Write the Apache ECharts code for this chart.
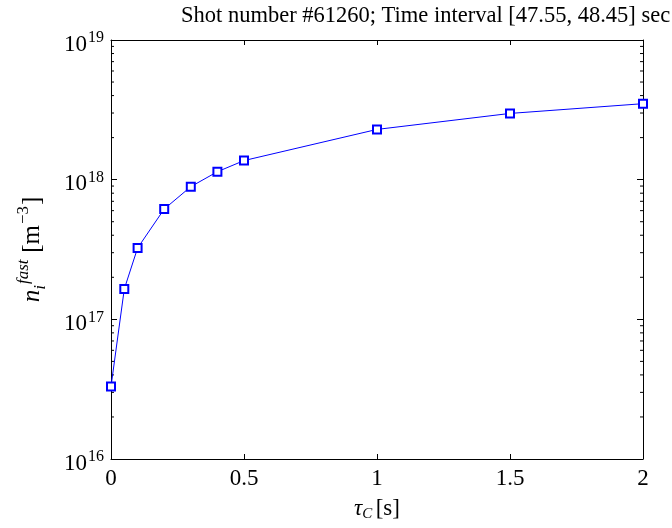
<!DOCTYPE html>
<html>
<head>
<meta charset="utf-8">
<script src="https://cdn.jsdelivr.net/npm/echarts@6/dist/echarts.min.js"></script>
<style>
  html, body { margin: 0; padding: 0; background: #fff; }
  #main { width: 672px; height: 528px; }
</style>
</head>
<body>
<div id="main"></div>
<script>
// tau_C [s] and fast ion density [m^-3]
var tauC = [0, 0.05, 0.1, 0.2, 0.3, 0.4, 0.5, 1, 1.5, 2];
var nFast = [3.30e16, 1.65e17, 3.24e17, 6.16e17, 8.91e17, 1.14e18, 1.37e18, 2.29e18, 2.98e18, 3.50e18];
var xTicks = [0, 0.5, 1, 1.5, 2];
var yDecades = [16, 17, 18, 19];
var minorMult = [2, 3, 4, 5, 6, 7, 8, 9];

var serif = "'Liberation Serif', 'DejaVu Serif', serif";
var chart = echarts.init(document.getElementById("main"));

var yLabel = {
  formatter: function (v) {
    return "{b|10}{s|" + Math.round(Math.log10(v)) + "}";
  },
  margin: 7,
  padding: [6, 0, 0, 0],
  rich: {
    b: { fontSize: 23, fontFamily: serif, color: "#000", verticalAlign: "bottom" },
    s: { fontSize: 16, fontFamily: serif, color: "#000", verticalAlign: "top", padding: [0, 0, 10, 1] }
  }
};

var option = {
  animation: false,
  title: {
    text: "Shot number #61260; Time interval [47.55, 48.45] sec",
    left: 176,
    top: 0,
    textStyle: { fontFamily: serif, fontSize: 22.5, fontWeight: "normal", color: "#000" }
  },
  grid: { left: 111, right: 29, top: 40, bottom: 69 },
  xAxis: [
    {
      type: "value",
      min: xTicks[0],
      max: xTicks[xTicks.length - 1],
      interval: 0.5,
      name: "{t|τ}{c|C} {t2|[s]}",
      nameLocation: "middle",
      nameGap: 38,
      nameTextStyle: {
        rich: {
          t: { fontSize: 23, fontFamily: serif, fontStyle: "italic", color: "#000", verticalAlign: "bottom" },
          c: { fontSize: 15, fontFamily: serif, fontStyle: "italic", color: "#000", verticalAlign: "bottom", padding: [0, 0, -2, 0] },
          t2: { fontSize: 23, fontFamily: serif, color: "#000", verticalAlign: "bottom" }
        }
      },
      axisLine: { onZero: false, lineStyle: { color: "#000", width: 1 } },
      axisTick: { inside: true, length: 5, lineStyle: { color: "#000" } },
      axisLabel: {
        margin: 8,
        fontSize: 23,
        fontFamily: serif,
        color: "#000",
        formatter: function (v) { return String(v); }
      },
      splitLine: { show: false }
    },
    {
      type: "value",
      position: "top",
      min: xTicks[0],
      max: xTicks[xTicks.length - 1],
      interval: 0.5,
      axisLine: { onZero: false, lineStyle: { color: "#000", width: 1 } },
      axisTick: { inside: true, length: 5, lineStyle: { color: "#000" } },
      axisLabel: { show: false },
      splitLine: { show: false }
    }
  ],
  yAxis: [
    {
      type: "log",
      logBase: 10,
      min: Math.pow(10, yDecades[0]),
      max: Math.pow(10, yDecades[yDecades.length - 1]),
      name: "{n|n}{i|i}{f|fast}  {u|[m}{e|−3}{u|]}",
      nameLocation: "middle",
      nameRotate: 90,
      nameGap: 66,
      nameTextStyle: {
        rich: {
          n: { fontSize: 25, fontFamily: serif, fontStyle: "italic", color: "#000", verticalAlign: "bottom" },
          i: { fontSize: 17, fontFamily: serif, fontStyle: "italic", color: "#000", verticalAlign: "bottom", padding: [0, 0, -4, 0] },
          f: { fontSize: 17, fontFamily: serif, fontStyle: "italic", color: "#000", verticalAlign: "top", padding: [0, 0, 13, 1] },
          u: { fontSize: 25, fontFamily: serif, color: "#000", verticalAlign: "bottom" },
          e: { fontSize: 17, fontFamily: serif, color: "#000", verticalAlign: "top", padding: [0, 1, 13, 1] }
        }
      },
      axisLine: { show: true, onZero: false, lineStyle: { color: "#000", width: 1 } },
      axisTick: { show: true, inside: true, length: 6, lineStyle: { color: "#000" } },
      axisLabel: yLabel,
      splitLine: { show: false }
    },
    {
      type: "log",
      logBase: 10,
      position: "right",
      min: Math.pow(10, yDecades[0]),
      max: Math.pow(10, yDecades[yDecades.length - 1]),
      axisLine: { show: true, onZero: false, lineStyle: { color: "#000", width: 1 } },
      axisTick: { show: true, inside: true, length: 6, lineStyle: { color: "#000" } },
      axisLabel: { show: false },
      splitLine: { show: false }
    }
  ],
  series: [
    {
      type: "line",
      data: tauC.map(function (t, i) { return [t, nFast[i]]; }),
      symbol: "emptyRect",
      symbolSize: 8,
      lineStyle: { color: "#0000ff", width: 1 },
      itemStyle: { color: "#0000ff", borderWidth: 1 },
      clip: false
    }
  ]
};

chart.setOption(option);

// minor log ticks (2..9 per decade) on left and right borders
var x0 = chart.convertToPixel({ xAxisIndex: 0 }, xTicks[0]);
var x1 = chart.convertToPixel({ xAxisIndex: 0 }, xTicks[xTicks.length - 1]);
var minor = [];
for (var d = 0; d < yDecades.length - 1; d++) {
  for (var k = 0; k < minorMult.length; k++) {
    var py = chart.convertToPixel({ yAxisIndex: 0 }, minorMult[k] * Math.pow(10, yDecades[d]));
    minor.push({ type: "line", shape: { x1: x0, y1: py, x2: x0 + 3, y2: py }, style: { stroke: "#000", lineWidth: 1 } });
    minor.push({ type: "line", shape: { x1: x1 - 3, y1: py, x2: x1, y2: py }, style: { stroke: "#000", lineWidth: 1 } });
  }
}
chart.setOption({ graphic: minor });
</script>
</body>
</html>
